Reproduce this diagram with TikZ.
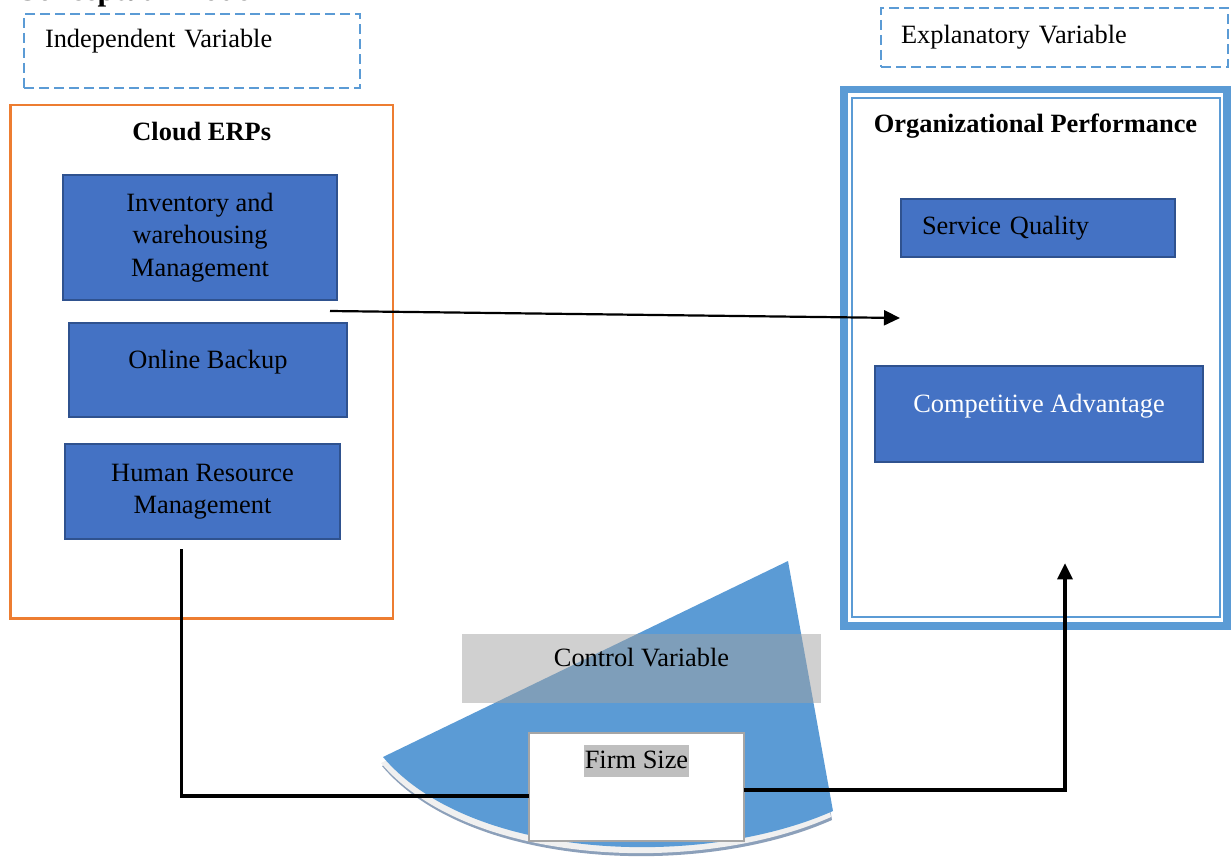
\documentclass[tikz,border=0pt]{standalone}
\usepackage{fontspec}
\setmainfont{Liberation Serif}
\usetikzlibrary{arrows.meta,positioning,calc}
\definecolor{boxblue}{HTML}{4472C4}
\definecolor{boxedge}{HTML}{2F528F}
\definecolor{frameblue}{HTML}{5B9BD5}
\definecolor{frameorange}{HTML}{ED7D31}
\definecolor{firmgray}{HTML}{A5A5A5}
\definecolor{markgray}{HTML}{BFBFBF}
\definecolor{ctrlgray}{RGB}{161,161,161}
\definecolor{rimgray}{HTML}{F0F0F0}
\definecolor{rimshade}{RGB}{140,160,186}

\begin{document}
\begin{tikzpicture}[x=1pt, y=-1pt, >={Triangle[length=16pt,width=15pt]}, node distance=10pt,
  every node/.style={outer sep=0pt, font=\fontsize{26.4pt}{32.5pt}\selectfont},
  varbox/.style={draw=frameblue, line width=2pt, dash pattern=on 10pt off 5pt, anchor=north west, align=left, inner xsep=21pt},
  erpbox/.style={draw=boxedge, fill=boxblue, line width=2.5pt, anchor=north west, align=center, inner sep=0pt},
  heading/.style={font=\fontsize{26.4pt}{32.5pt}\selectfont\bfseries, inner sep=0pt, text height=18pt, text depth=6pt},
  raised/.style={text height=18pt, text depth=22pt},
  link/.style={line width=3.2pt, line join=miter}]
  \useasboundingbox (0,0) rectangle (1231,864);

  \node[anchor=base west, inner sep=0pt, font=\fontsize{31pt}{36pt}\selectfont\bfseries] (title) at (15,1) {Conceptual Model};

  % variable tags
  \node[varbox, minimum height=74pt, text width=294pt, text height=18pt, text depth=24pt] (indep) at (24,14) {Independent Variable};
  \node[varbox, minimum height=59pt, inner xsep=20pt, text width=307pt, text height=18pt, text depth=6pt] (expl) at (881,8) {Explanatory Variable};

  % cloud ERP group
  \node[draw=frameorange, line width=2.5pt, anchor=north west, minimum width=382.5pt, minimum height=513.5pt] (erp) at (10.5,105) {};
  \node[heading, below=18pt of erp.north] (erptitle) {Cloud ERPs};
  \node[erpbox, minimum width=274pt, minimum height=125pt] (inv) at (63,175) {Inventory and\\warehousing\\Management};
  \node[erpbox, raised, minimum width=278pt, minimum height=94pt] (backup) at (69,323) {Online Backup};
  \node[erpbox, minimum width=275pt, minimum height=95pt] (hr) at (65,444) {Human Resource\\Management};

  % organizational performance group
  \node[draw=frameblue, line width=7.5pt, anchor=north west, minimum width=383pt, minimum height=536.5pt] (perf) at (844,89.5) {};
  \node[draw=frameblue, line width=2pt, minimum width=368pt, minimum height=519pt] (perfin) at (perf.center) {};
  \node[heading, below=25.5pt of perf.north] (perftitle) {Organizational Performance};
  \node[erpbox, align=left, inner xsep=21pt, text width=232pt, text height=18pt, text depth=6pt, minimum height=58pt] (quality) at (901,199) {Service Quality};
  \node[erpbox, raised, text=white, minimum width=328pt, minimum height=96pt] (advantage) at (875,366) {Competitive Advantage};

  % control variable wedge
  \fill[rimshade] ([shift={(-1,9)}]383,757) -- ([shift={(-1,9)}]788,561) -- ([shift={(-1,9)}]833,811)
    .. controls ([shift={(-1,9)}]700,870) and ([shift={(-1,9)}]470,860) .. cycle;
  \fill[rimgray] ([shift={(-2,6)}]383,757) -- ([shift={(-2,6)}]788,561) -- ([shift={(-2,6)}]833,811)
    .. controls ([shift={(-2,6)}]700,870) and ([shift={(-2,6)}]470,860) .. cycle;
  \fill[frameblue] (383,757) -- (788,561) -- (833,811) .. controls (700,870) and (470,860) .. cycle;

  \node[anchor=north west, fill=ctrlgray, fill opacity=0.5, text opacity=1, raised, minimum width=359pt, minimum height=69pt, inner sep=0pt] (control) at (462,634) {Control Variable};
  \node[draw=firmgray, fill=white, line width=2pt, anchor=north west, minimum width=215pt, minimum height=108pt] (firm) at (529,733) {};
  \node[fill=markgray, inner sep=0pt, inner xsep=1pt, text height=23pt, text depth=9pt, below=12pt of firm.north] (firmtxt) {Firm Size};

  % links
  \coordinate (perftip) at ($(perfin.south)+(29.5,-54)$);
  \draw[line width=2.2pt, ->] ($(inv.south east)+(-7,11)$) -- ($(quality.south west)+(-1,61)$);
  \draw[link] ($(hr.south)+(-21,10)$) |- ($(firm.west)+(0,9)$);
  \draw[link, ->] ($(firm.east)+(0,3)$) -| (perftip);
\end{tikzpicture}
\end{document}
